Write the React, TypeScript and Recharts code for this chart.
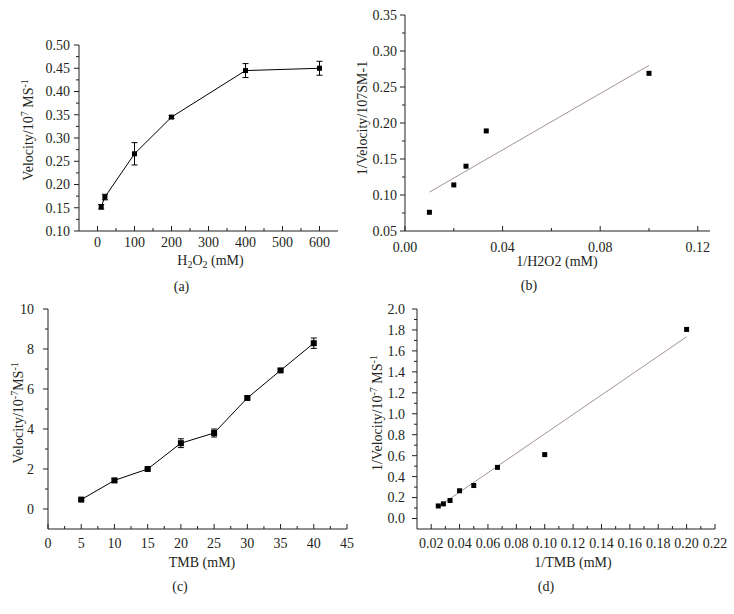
import React from 'react';
import { ScatterChart, Scatter, XAxis, YAxis, ErrorBar } from 'recharts';

const W = 734;
const H = 614;
const FONT = '"Liberation Serif", "Times New Roman", serif';
const INK = '#231f20';
const FIT = '#a39494';

// (a) velocity vs H2O2
const aConc = [10, 20, 100, 200, 400, 600];
const aVel = [0.152, 0.173, 0.266, 0.345, 0.445, 0.45];
const aErr = [0.005, 0.006, 0.024, 0.003, 0.015, 0.015];
const aXTicks = [0, 100, 200, 300, 400, 500, 600];
const aYTicks = [0.1, 0.15, 0.2, 0.25, 0.3, 0.35, 0.4, 0.45, 0.5];

// (b) Lineweaver-Burk for H2O2
const bInvConc = [0.01, 0.02, 0.025, 0.0333, 0.1];
const bInvVel = [0.076, 0.114, 0.14, 0.189, 0.269];
const bFitX = [0.01, 0.1];
const bFitY = [0.104, 0.28];
const bXTicks = [0, 0.04, 0.08, 0.12];
const bYTicks = [0.05, 0.1, 0.15, 0.2, 0.25, 0.3, 0.35];

// (c) velocity vs TMB
const cConc = [5, 10, 15, 20, 25, 30, 35, 40];
const cVel = [0.47, 1.43, 2.0, 3.29, 3.8, 5.55, 6.93, 8.29];
const cErr = [0.05, 0.08, 0.05, 0.22, 0.2, 0.06, 0.06, 0.26];
const cXTicks = [0, 5, 10, 15, 20, 25, 30, 35, 40, 45];
const cYTicks = [0, 2, 4, 6, 8, 10];

// (d) Lineweaver-Burk for TMB
const dInvConc = [0.025, 0.0286, 0.0333, 0.04, 0.05, 0.0667, 0.1, 0.2];
const dInvVel = [0.12, 0.14, 0.172, 0.265, 0.315, 0.488, 0.61, 1.805];
const dFitX = [0.025, 0.2];
const dFitY = [0.113, 1.735];
const dXTicks = [0.02, 0.04, 0.06, 0.08, 0.1, 0.12, 0.14, 0.16, 0.18, 0.2, 0.22];
const dYTicks = [0, 0.2, 0.4, 0.6, 0.8, 1, 1.2, 1.4, 1.6, 1.8, 2];

type Plot = { left: number; top: number; right: number; bottom: number };

const AXIS = 30;
const TICK_FS = 14;

const marginsFor = (p: Plot) => ({
  top: p.top,
  left: p.left - AXIS,
  right: W - p.right,
  bottom: H - p.bottom - AXIS,
});

const midpoints = (arr: number[]) =>
  arr.slice(1).map((v, i) => (v + arr[i]) / 2);

const withMinors = (majors: number[]) =>
  [...majors, ...midpoints(majors)].sort((a, b) => a - b);

const isMajor = (majors: number[], v: number) =>
  majors.some(m => Math.abs(m - v) < 1e-9);

const makeXTick = (majors: number[], fmt: (v: number) => string, labelDy: number) =>
  (props: any) => {
    const { x, y, payload } = props;
    const major = isMajor(majors, payload.value);
    return (
      <g>
        <line x1={x} x2={x} y1={y} y2={y - (major ? 5 : 3)} stroke={INK} strokeWidth={1} />
        {major && (
          <text x={x} y={y + labelDy} textAnchor="middle" fontFamily={FONT} fontSize={TICK_FS} fill={INK}>
            {fmt(payload.value)}
          </text>
        )}
      </g>
    );
  };

const makeYTick = (majors: number[], fmt: (v: number) => string, gap: number) =>
  (props: any) => {
    const { x, y, payload } = props;
    const major = isMajor(majors, payload.value);
    return (
      <g>
        <line x1={x} x2={x - (major ? 5 : 3)} y1={y} y2={y} stroke={INK} strokeWidth={1} />
        {major && (
          <text x={x - gap} y={y} dy="0.35em" textAnchor="end" fontFamily={FONT} fontSize={TICK_FS} fill={INK}>
            {fmt(payload.value)}
          </text>
        )}
      </g>
    );
  };

const square = (size: number) => (props: any) => (
  <rect x={props.cx - size / 2} y={props.cy - size / 2} width={size} height={size} fill="#000" />
);

const noDot = () => <g />;

const toPoints = (xs: number[], ys: number[], errs?: number[]) =>
  xs.map((x, i) => ({ x, y: ys[i], err: errs ? errs[i] : 0 }));

const txt = { fontFamily: FONT, fontSize: 14, fill: INK };

const Layer: React.FC<{ children: React.ReactNode }> = ({ children }) => (
  <div style={{ position: 'absolute', left: 0, top: 0, width: W, height: H }}>{children}</div>
);

const PA: Plot = { left: 79, top: 45, right: 338, bottom: 231 };
const PB: Plot = { left: 405, top: 15, right: 710, bottom: 231 };
const PC: Plot = { left: 48, top: 309, right: 347, bottom: 529 };
const PD: Plot = { left: 417, top: 309, right: 715, bottom: 529 };

const cx = (p: Plot) => (p.left + p.right) / 2;
const cy = (p: Plot) => (p.top + p.bottom) / 2;

const PanelA = () => {
  const data = toPoints(aConc, aVel, aErr);
  const lx = 33;
  const ly = cy(PA) - 8;
  return (
    <ScatterChart width={W} height={H} margin={marginsFor(PA)}>
      <XAxis type="number" dataKey="x" domain={[-50, 650]} ticks={withMinors(aXTicks)} interval={0}
        tickSize={0} tickMargin={0} height={AXIS} stroke={INK}
        tick={makeXTick(aXTicks, v => String(v), 16)} />
      <YAxis type="number" dataKey="y" domain={[0.1, 0.5]} ticks={withMinors(aYTicks)} interval={0}
        tickSize={0} tickMargin={0} width={AXIS} stroke={INK}
        tick={makeYTick(aYTicks, v => v.toFixed(2), 9)} />
      <Scatter data={data} shape={square(5)} line={{ stroke: '#000', strokeWidth: 1 }} isAnimationActive={false}>
        <ErrorBar dataKey="err" direction="y" width={3} stroke="#000" strokeWidth={1} />
      </Scatter>
      <text x={cx(PA) + 2} y={PA.bottom + 34} textAnchor="middle" {...txt}>
        H<tspan dy={3} fontSize={10}>2</tspan><tspan dy={-3}>O</tspan><tspan dy={3} fontSize={10}>2</tspan><tspan dy={-3}> (mM)</tspan>
      </text>
      <text x={cx(PA) - 27} y={PA.bottom + 60} textAnchor="middle" {...txt}>(a)</text>
      <text x={lx} y={ly} textAnchor="middle" transform={`rotate(-90, ${lx}, ${ly})`} {...txt}>
        Velocity/10<tspan dy={-5} fontSize={10}>7</tspan><tspan dy={5}> MS</tspan><tspan dy={-5} fontSize={10}>-1</tspan>
      </text>
    </ScatterChart>
  );
};

const PanelB = () => {
  const data = toPoints(bInvConc, bInvVel);
  const fit = toPoints(bFitX, bFitY);
  const lx = 362;
  const ly = cy(PB) - 5;
  return (
    <ScatterChart width={W} height={H} margin={marginsFor(PB)}>
      <XAxis type="number" dataKey="x" domain={[0, 0.125]} ticks={withMinors(bXTicks)} interval={0}
        tickSize={0} tickMargin={0} height={AXIS} stroke={INK}
        tick={makeXTick(bXTicks, v => v.toFixed(2), 21)} />
      <YAxis type="number" dataKey="y" domain={[0.05, 0.35]} ticks={withMinors(bYTicks)} interval={0}
        tickSize={0} tickMargin={0} width={AXIS} stroke={INK}
        tick={makeYTick(bYTicks, v => v.toFixed(2), 8)} />
      <Scatter data={fit} shape={noDot} line={{ stroke: FIT, strokeWidth: 1 }} isAnimationActive={false} />
      <Scatter data={data} shape={square(5)} isAnimationActive={false} />
      <text x={557} y={PB.bottom + 35} textAnchor="middle" {...txt}>1/H2O2 (mM)</text>
      <text x={529} y={PB.bottom + 59} textAnchor="middle" {...txt}>(b)</text>
      <text x={lx} y={ly} dy="0.35em" textAnchor="middle" transform={`rotate(-90, ${lx}, ${ly})`} {...txt}>
        1/Velocity/107SM-1
      </text>
    </ScatterChart>
  );
};

const PanelC = () => {
  const data = toPoints(cConc, cVel, cErr);
  const lx = 18;
  const ly = cy(PC) - 6;
  return (
    <ScatterChart width={W} height={H} margin={marginsFor(PC)}>
      <XAxis type="number" dataKey="x" domain={[0, 45]} ticks={withMinors(cXTicks)} interval={0}
        tickSize={0} tickMargin={0} height={AXIS} stroke={INK}
        tick={makeXTick(cXTicks, v => String(v), 19)} />
      <YAxis type="number" dataKey="y" domain={[-1, 10]} ticks={withMinors(cYTicks)} interval={0}
        tickSize={0} tickMargin={0} width={AXIS} stroke={INK}
        tick={makeYTick(cYTicks, v => String(v), 14)} />
      <Scatter data={data} shape={square(6)} line={{ stroke: '#000', strokeWidth: 1 }} isAnimationActive={false}>
        <ErrorBar dataKey="err" direction="y" width={3} stroke="#000" strokeWidth={1} />
      </Scatter>
      <text x={202} y={PC.bottom + 38} textAnchor="middle" {...txt}>TMB (mM)</text>
      <text x={180} y={PC.bottom + 62} textAnchor="middle" {...txt}>(c)</text>
      <text x={lx} y={ly} dy="0.35em" textAnchor="middle" transform={`rotate(-90, ${lx}, ${ly})`} {...txt}>
        Velocity/10<tspan dy={-5} fontSize={10}>-7</tspan><tspan dy={5}>MS</tspan><tspan dy={-5} fontSize={10}>-1</tspan>
      </text>
    </ScatterChart>
  );
};

const PanelD = () => {
  const data = toPoints(dInvConc, dInvVel);
  const fit = toPoints(dFitX, dFitY);
  const lx = 377;
  const ly = cy(PD) - 6;
  return (
    <ScatterChart width={W} height={H} margin={marginsFor(PD)}>
      <XAxis type="number" dataKey="x" domain={[0.01, 0.22]} ticks={withMinors(dXTicks)} interval={0}
        tickSize={0} tickMargin={0} height={AXIS} stroke={INK}
        tick={makeXTick(dXTicks, v => v.toFixed(2), 19)} />
      <YAxis type="number" dataKey="y" domain={[-0.1, 2]} ticks={withMinors(dYTicks)} interval={0}
        tickSize={0} tickMargin={0} width={AXIS} stroke={INK}
        tick={makeYTick(dYTicks, v => v.toFixed(1), 12)} />
      <Scatter data={fit} shape={noDot} line={{ stroke: FIT, strokeWidth: 1 }} isAnimationActive={false} />
      <Scatter data={data} shape={square(5)} isAnimationActive={false} />
      <text x={573} y={PD.bottom + 38} textAnchor="middle" {...txt}>1/TMB (mM)</text>
      <text x={546} y={PD.bottom + 62} textAnchor="middle" {...txt}>(d)</text>
      <text x={lx} y={ly} dy="0.35em" textAnchor="middle" transform={`rotate(-90, ${lx}, ${ly})`} {...txt}>
        1/Velocity/10<tspan dy={-5} fontSize={10}>-7</tspan><tspan dy={5}> MS</tspan><tspan dy={-5} fontSize={10}>-1</tspan>
      </text>
    </ScatterChart>
  );
};

export default function App() {
  return (
    <div style={{ position: 'absolute', left: 0, top: 0, width: W, height: H, background: '#fff' }}>
      <Layer><PanelA /></Layer>
      <Layer><PanelB /></Layer>
      <Layer><PanelC /></Layer>
      <Layer><PanelD /></Layer>
    </div>
  );
}
